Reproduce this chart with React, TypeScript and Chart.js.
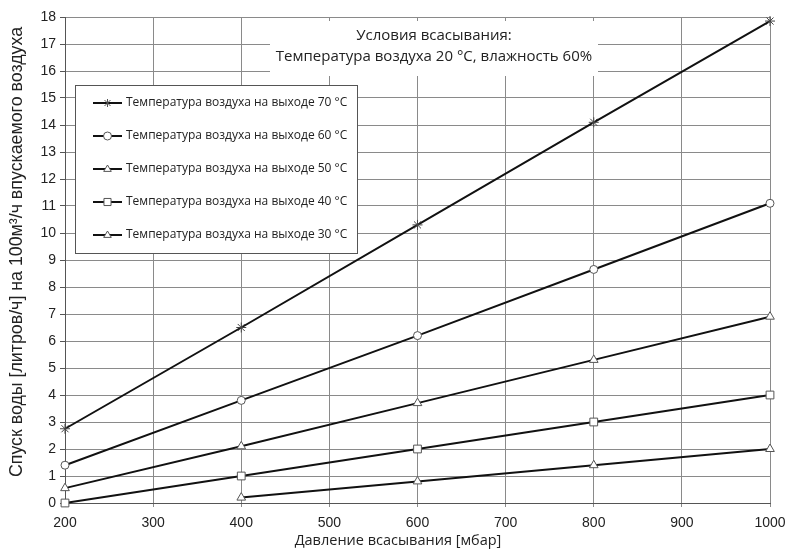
import React, { useEffect, useRef } from 'react';
import { Chart, registerables } from 'chart.js';

Chart.register(...registerables);

const pressures = [200, 400, 600, 800, 1000];
const t70 = [2.75, 6.5, 10.3, 14.1, 17.85];
const t60 = [1.4, 3.8, 6.2, 8.65, 11.1];
const t50 = [0.55, 2.1, 3.7, 5.3, 6.9];
const t40 = [0, 1.0, 2.0, 3.0, 4.0];
const t30 = [null, 0.2, 0.8, 1.4, 2.0];

const seriesLabels = [
  'Температура воздуха на выходе 70 °C',
  'Температура воздуха на выходе 60 °C',
  'Температура воздуха на выходе 50 °C',
  'Температура воздуха на выходе 40 °C',
  'Температура воздуха на выходе 30 °C',
];
const pointStyles = ['star', 'circle', 'triangle', 'rect', 'triangle'];
const pointRadii = [5, 4, 5, 5.5, 5];

const titleLines = ['Условия всасывания:', 'Температура воздуха 20 °C, влажность 60%'];
const xTitle = 'Давление всасывания [мбар]';
const yTitle = 'Спуск воды [литров/ч] на 100м³/ч впускаемого воздуха';

function drawMarker(ctx: CanvasRenderingContext2D, style: string, x: number, y: number, r: number) {
  ctx.beginPath();
  if (style === 'circle') {
    ctx.arc(x, y, r, 0, Math.PI * 2);
  } else if (style === 'triangle') {
    ctx.moveTo(x, y - r);
    ctx.lineTo(x + r * 0.95, y + r * 0.6);
    ctx.lineTo(x - r * 0.95, y + r * 0.6);
    ctx.closePath();
  } else if (style === 'rect') {
    const s = r * Math.SQRT1_2;
    ctx.rect(x - s, y - s, 2 * s, 2 * s);
  } else if (style === 'star') {
    const s = r * 0.75;
    ctx.moveTo(x - s, y - s); ctx.lineTo(x + s, y + s);
    ctx.moveTo(x + s, y - s); ctx.lineTo(x - s, y + s);
    ctx.moveTo(x, y - r); ctx.lineTo(x, y + r);
    ctx.stroke();
    return;
  }
  ctx.fill();
  ctx.stroke();
}

const overlay = {
  id: 'overlay',
  afterDraw(chart: any) {
    const ctx: CanvasRenderingContext2D = chart.ctx;
    ctx.save();
    // condition box
    ctx.fillStyle = '#ffffff';
    ctx.fillRect(270, 21, 328, 55);
    ctx.fillStyle = '#222';
    ctx.font = '15px "Open Sans"';
    ctx.textAlign = 'center';
    ctx.textBaseline = 'middle';
    ctx.fillText(titleLines[0], 434, 36);
    ctx.fillText(titleLines[1], 434, 57);

    // legend box
    ctx.fillStyle = '#ffffff';
    ctx.fillRect(75, 85, 282, 168);
    ctx.strokeStyle = '#555';
    ctx.lineWidth = 1;
    ctx.strokeRect(75.5, 85.5, 282, 168);
    const rows = [103, 136, 169, 202, 235];
    chart.data.datasets.forEach((ds: any, i: number) => {
      const y = rows[i];
      ctx.strokeStyle = '#111';
      ctx.lineWidth = 2;
      ctx.beginPath();
      ctx.moveTo(93, y);
      ctx.lineTo(122, y);
      ctx.stroke();
      ctx.fillStyle = '#fff';
      ctx.strokeStyle = '#555';
      ctx.lineWidth = 1;
      drawMarker(ctx, ds.pointStyle, 107.5, y, ds.pointStyle === 'rect' ? 5 : 4);
      ctx.fillStyle = '#222';
      ctx.font = '12px "Open Sans"';
      ctx.textAlign = 'left';
      ctx.textBaseline = 'middle';
      ctx.fillText(ds.label, 126, y);
    });

    // axis titles
    ctx.fillStyle = '#222';
    ctx.font = '14.5px "Open Sans"';
    ctx.textAlign = 'center';
    ctx.textBaseline = 'middle';
    ctx.fillText(xTitle, 398, 541);

    ctx.translate(17, 252);
    ctx.rotate(-Math.PI / 2);
    ctx.font = '17.8px "Liberation Sans", Arial';
    ctx.fillText(yTitle, 0, 0);
    ctx.restore();
  },
};

export default function App() {
  const ref = useRef<HTMLCanvasElement>(null);
  useEffect(() => {
    document.body.style.margin = '0';
    const series = [t70, t60, t50, t40, t30];
    const chart = new Chart(ref.current!, {
      type: 'line',
      data: {
        datasets: series.map((vals, i) => ({
          label: seriesLabels[i],
          data: pressures.map((p, j) => ({ x: p, y: vals[j] as any })),
          borderColor: '#111',
          borderWidth: 2,
          pointStyle: pointStyles[i] as any,
          pointRadius: pointRadii[i],
          pointBackgroundColor: '#fff',
          pointBorderColor: i === 0 ? '#444' : '#555',
          pointBorderWidth: 1,
          fill: false,
          tension: 0,
          spanGaps: false,
          clip: false as any,
        })),
      },
      options: {
        animation: false,
        responsive: false,
        layout: { padding: { top: 17, right: 16, left: 0, bottom: 0 } },
        plugins: { legend: { display: false }, tooltip: { enabled: false } },
        scales: {
          x: {
            type: 'linear',
            min: 200,
            max: 1000,
            ticks: {
              stepSize: 100,
              color: '#222',
              font: { family: '"Liberation Sans", Arial', size: 14 },
              padding: 8,
              maxRotation: 0,
              callback: (v: any) => String(v),
            },
            grid: { color: '#8a8a8a', lineWidth: 1, tickLength: 4, tickColor: '#8a8a8a' },
            border: { color: '#555', width: 1 },
            afterFit: (s: any) => { s.height = 53; s.paddingRight = 0; s.paddingLeft = 0; },
          },
          y: {
            min: 0,
            max: 18,
            ticks: {
              stepSize: 1,
              color: '#222',
              font: { family: '"Liberation Sans", Arial', size: 14 },
              padding: 4,
              callback: (v: any) => String(v),
            },
            grid: { color: '#8a8a8a', lineWidth: 1, tickLength: 5, tickColor: '#555' },
            border: { color: '#555', width: 1 },
            afterFit: (s: any) => { s.width = 65; s.paddingTop = 0; s.paddingBottom = 0; },
          },
        },
      },
      plugins: [overlay],
    });
    return () => chart.destroy();
  }, []);
  return (
    <div style={{ width: 786, height: 556, background: '#fff' }}>
      <canvas ref={ref} width={786} height={556} />
    </div>
  );
}
